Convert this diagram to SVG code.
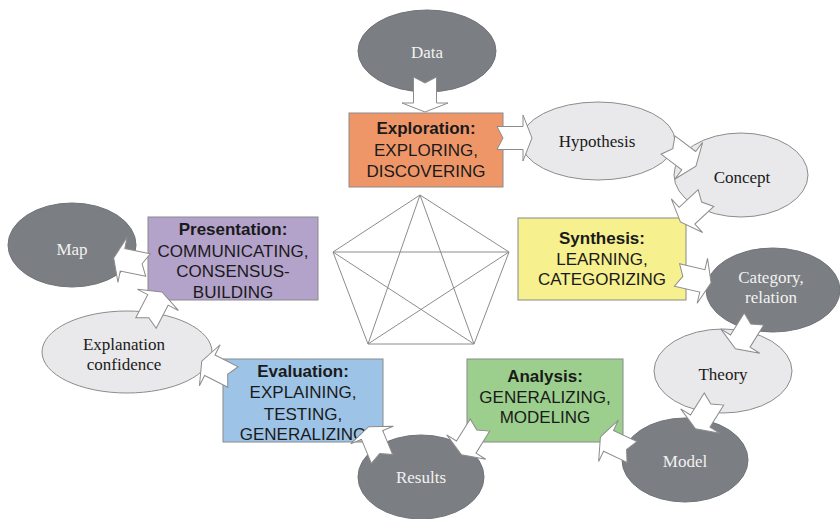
<svg xmlns="http://www.w3.org/2000/svg" xmlns:xlink="http://www.w3.org/1999/xlink" width="840" height="519" viewBox="0 0 840 519">
<style>
.dark{fill:#7b7e82;stroke:#707377;stroke-width:1}
.light{fill:#e9e9eb;stroke:#8c8c8c;stroke-width:1}
.box{stroke:#8a8a8a;stroke-width:1}
.st{font-family:"Liberation Serif","Times New Roman",serif;font-size:17px;text-anchor:middle}
.dt{fill:#f2f2f2}
.lt{fill:#1a1a1a}
.bt{font-family:"Liberation Sans",Arial,sans-serif;font-size:17px;text-anchor:middle;fill:#1a1a1a}
.b{font-weight:bold}
.arr{fill:#ffffff;stroke:#8c8c8c;stroke-width:1;stroke-linejoin:miter}
.pent{fill:none;stroke:#8c8c8c;stroke-width:1}
</style>
<defs>
<path id="arr" d="M0,-11.5 H26 V-23 L35,0 L26,23 V11.5 H0 L6,0 Z"/>
</defs>
<rect width="840" height="519" fill="#ffffff"/>
<g id="pentagon" class="pent">
<polygon points="420,195 509,252 474,344 368,344 333,252"/>
<polygon points="420,195 474,344 333,252 509,252 368,344"/>
</g>
<g id="data"><ellipse class="dark" cx="427" cy="51" rx="69" ry="41"/><text class="st dt" x="427" y="58">Data</text></g>
<g id="hypothesis"><ellipse class="light" cx="598" cy="141" rx="77" ry="39"/><text class="st lt" x="597" y="147">Hypothesis</text></g>
<g id="concept"><ellipse class="light" cx="741" cy="175" rx="67" ry="42"/><text class="st lt" x="742" y="183">Concept</text></g>
<g id="category"><ellipse class="dark" cx="773" cy="290" rx="67" ry="42"/><text class="st dt" x="771" y="283">Category,</text><text class="st dt" x="771" y="303">relation</text></g>
<g id="theory"><ellipse class="light" cx="723" cy="371" rx="69" ry="42"/><text class="st lt" x="723" y="380">Theory</text></g>
<g id="model"><ellipse class="dark" cx="685" cy="460" rx="63" ry="42"/><text class="st dt" x="685" y="467">Model</text></g>
<g id="results"><ellipse class="dark" cx="421" cy="477" rx="63" ry="42"/><text class="st dt" x="421" y="483">Results</text></g>
<g id="explanation"><ellipse class="light" cx="127" cy="352" rx="85" ry="41"/><text class="st lt" x="124" y="350">Explanation</text><text class="st lt" x="124" y="370">confidence</text></g>
<g id="map"><ellipse class="dark" cx="72" cy="245" rx="64" ry="42"/><text class="st dt" x="72" y="255">Map</text></g>
<g id="exploration"><rect class="box" x="349" y="113" width="154" height="74" fill="#ef9669"/>
<text class="bt b" x="426" y="134">Exploration:</text><text class="bt" x="426" y="156">EXPLORING,</text><text class="bt" x="426" y="177">DISCOVERING</text></g>
<g id="synthesis"><rect class="box" x="518" y="218" width="168" height="82" fill="#f6f08e"/>
<text class="bt b" x="602" y="244">Synthesis:</text><text class="bt" x="602" y="265">LEARNING,</text><text class="bt" x="602" y="285">CATEGORIZING</text></g>
<g id="analysis"><rect class="box" x="467" y="359" width="156" height="83" fill="#9ccf8d"/>
<text class="bt b" x="545" y="382">Analysis:</text><text class="bt" x="545" y="403">GENERALIZING,</text><text class="bt" x="545" y="423">MODELING</text></g>
<g id="evaluation"><rect class="box" x="223" y="359" width="160" height="83" fill="#9dc4e7"/>
<text class="bt b" x="303" y="377">Evaluation:</text><text class="bt" x="303" y="398">EXPLAINING,</text><text class="bt" x="303" y="420">TESTING,</text><text class="bt" x="303" y="440">GENERALIZING</text></g>
<g id="presentation"><rect class="box" x="148" y="217" width="170" height="83" fill="#b3a2ca"/>
<text class="bt b" x="233" y="235">Presentation:</text><text class="bt" x="233" y="257">COMMUNICATING,</text><text class="bt" x="233" y="277">CONSENSUS-</text><text class="bt" x="233" y="298">BUILDING</text></g>
<g id="connectors" class="arr">
<use xlink:href="#arr" transform="translate(425,77) rotate(90)"/>
<use xlink:href="#arr" transform="translate(497,138)"/>
<use xlink:href="#arr" transform="translate(668,145) rotate(37)"/>
<use xlink:href="#arr" transform="translate(706,198) rotate(137)"/>
<use xlink:href="#arr" transform="translate(677,275) rotate(13)"/>
<use xlink:href="#arr" transform="translate(754,319) rotate(122)"/>
<use xlink:href="#arr" transform="translate(714,399) rotate(122)"/>
<use xlink:href="#arr" transform="translate(632,452) rotate(205.5)"/>
<use xlink:href="#arr" transform="translate(480,425) rotate(122)"/>
<use xlink:href="#arr" transform="translate(382,459) rotate(-112.4)"/>
<use xlink:href="#arr" transform="translate(233,377) rotate(206.8)"/>
<use xlink:href="#arr" transform="translate(146,323) rotate(-62.7)"/>
<use xlink:href="#arr" transform="translate(148,265) rotate(191.5)"/>
</g>
</svg>
